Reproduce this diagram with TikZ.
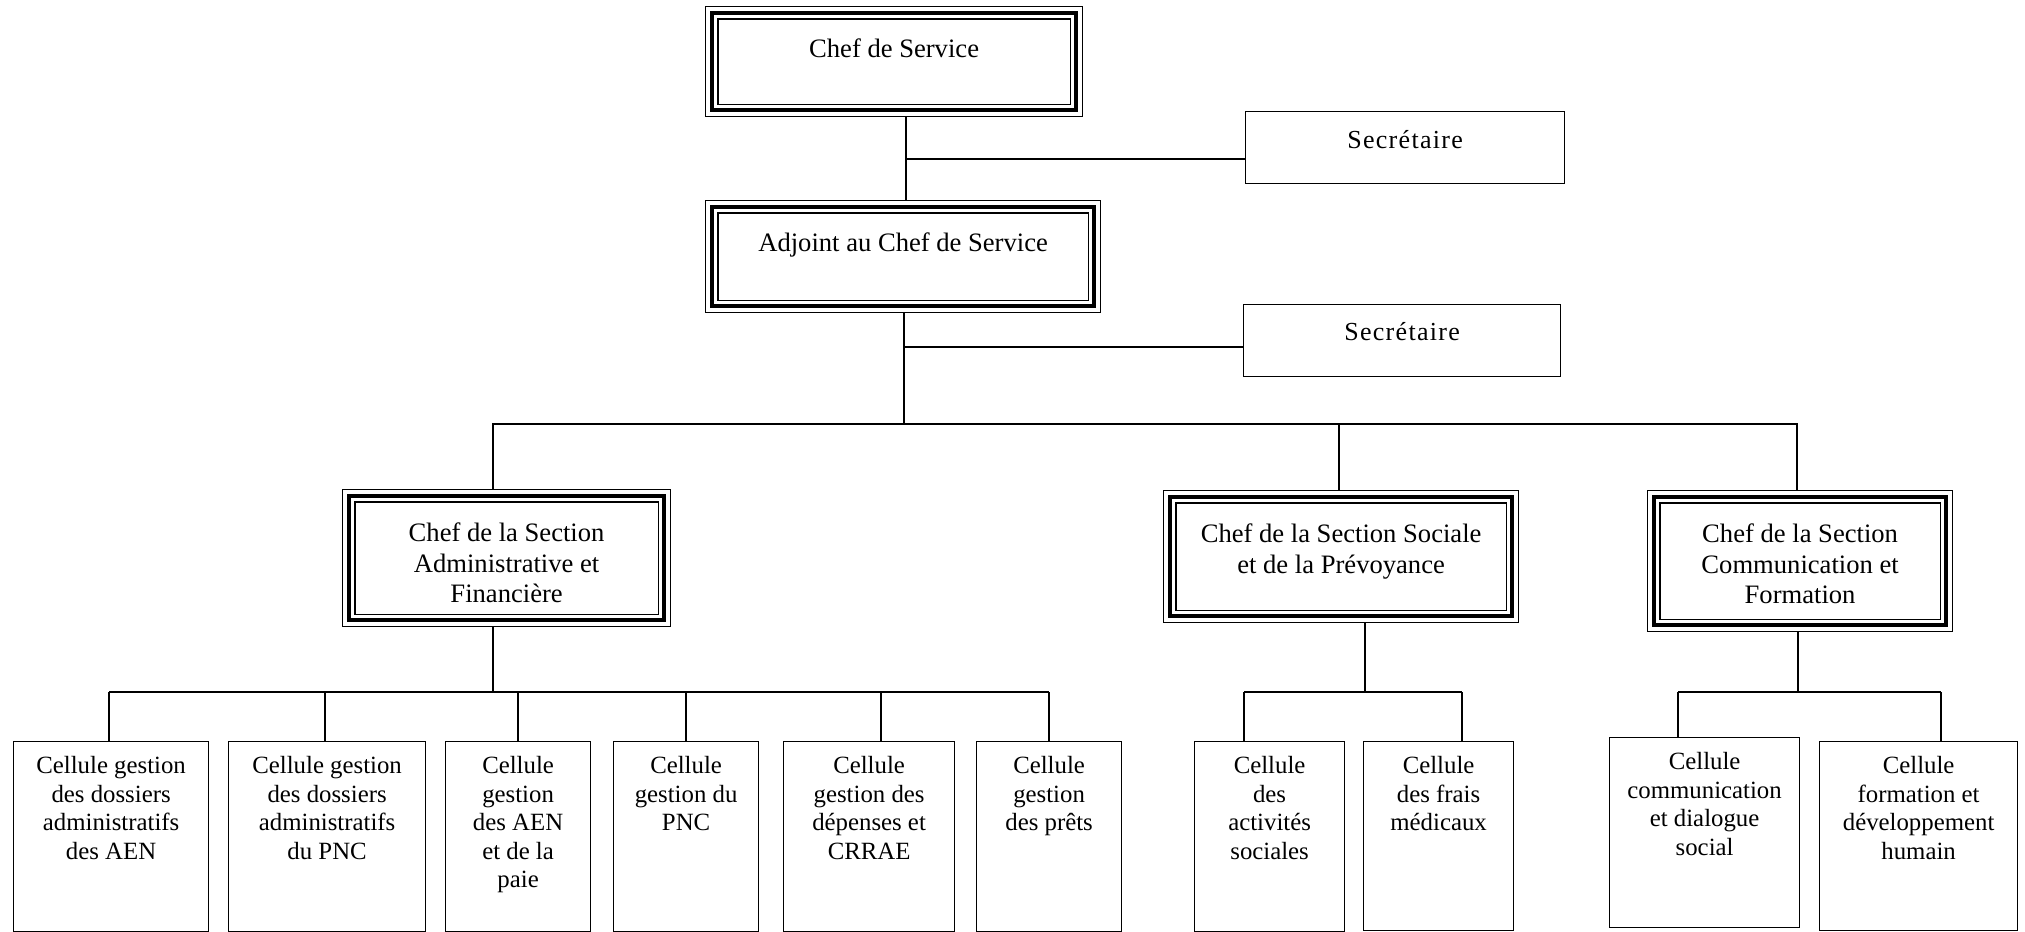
\documentclass[tikz,border=0pt]{standalone}
\usepackage{fontspec}
\setmainfont{Liberation Serif}
\usetikzlibrary{calc}

% text of a box: width, height, first baseline, lines
\newcommand{\boxtext}[4]{\parbox[t][#2][t]{#1}{\centering\rule{0pt}{#3}#4}}

\tikzset{
  bigbox/.style={draw, line width=0.6pt, inner sep=0pt, anchor=north west,
    font=\fontsize{13.3}{15.25}\selectfont},
  secbox/.style={draw, line width=0.6pt, inner sep=0pt, anchor=north west,
    font=\fontsize{13}{15}\selectfont},
  cellbox/.style={draw, line width=0.6pt, inner sep=0pt, anchor=north west,
    font=\fontsize{12.4}{14.25}\selectfont},
  link/.style={line width=0.6pt}
}

\begin{document}
\begin{tikzpicture}[x=0.5pt, y=-0.5pt]
  \useasboundingbox (0,0) rectangle (2025,932);

  % top of the chart
  \node[bigbox] at (705,6) (chef) {\boxtext{188.5pt}{55pt}{25.5pt}{Chef de Service}};
  \node[secbox] at (1245,111) (sec1) {\boxtext{159.5pt}{36pt}{18.5pt}{\addfontfeature{LetterSpace=5}Secrétaire}};
  \node[bigbox] at (705,200) (adj) {\boxtext{197.5pt}{56pt}{25.5pt}{Adjoint au Chef de Service}};
  \node[secbox] at (1243,304) (sec2) {\boxtext{158.5pt}{36pt}{18pt}{\addfontfeature{LetterSpace=5}Secrétaire}};

  % sections
  \node[bigbox] at (342,489) (saf) {\boxtext{164pt}{68.5pt}{26pt}{Chef de la Section\\Administrative et\\Financière}};
  \node[bigbox] at (1163,490) (ssp) {\boxtext{177.5pt}{66pt}{26pt}{Chef de la Section Sociale\\et de la Prévoyance}};
  \node[bigbox] at (1647,490) (scf) {\boxtext{152.5pt}{70.5pt}{26pt}{Chef de la Section\\Communication et\\Formation}};

  % cells
  \node[cellbox] at (13,741) (c1) {\boxtext{97.5pt}{95pt}{16pt}{Cellule gestion\\des dossiers\\administratifs\\des AEN}};
  \node[cellbox] at (228,741) (c2) {\boxtext{98.5pt}{95pt}{16pt}{Cellule gestion\\des dossiers\\administratifs\\du PNC}};
  \node[cellbox] at (445,741) (c3) {\boxtext{72.5pt}{95pt}{16pt}{Cellule\\gestion\\des AEN\\et de la\\paie}};
  \node[cellbox] at (613,741) (c4) {\boxtext{72.5pt}{95pt}{16pt}{Cellule\\gestion du\\PNC}};
  \node[cellbox] at (783,741) (c5) {\boxtext{85.5pt}{95pt}{16pt}{Cellule\\gestion des\\dépenses et\\CRRAE}};
  \node[cellbox] at (976,741) (c6) {\boxtext{72.5pt}{95pt}{16pt}{Cellule\\gestion\\des prêts}};
  \node[cellbox] at (1194,741) (c7) {\boxtext{75pt}{95pt}{16pt}{Cellule\\des\\activités\\sociales}};
  \node[cellbox] at (1363,741) (c8) {\boxtext{75pt}{94.5pt}{16pt}{Cellule\\des frais\\médicaux}};
  \node[cellbox] at (1609,737) (c9) {\boxtext{95pt}{95pt}{16pt}{Cellule\\communication\\et dialogue\\social}};
  \node[cellbox] at (1819,741) (c10) {\boxtext{99pt}{94.5pt}{16pt}{Cellule\\formation et\\développement\\humain}};

  % triple frames
  \foreach \n in {chef,adj,saf,ssp,scf}{
    \draw[line width=2pt] ([shift={(3.5pt,-3.5pt)}]\n.north west) rectangle ([shift={(-3.5pt,3.5pt)}]\n.south east);
    \draw[line width=0.6pt] ([shift={(6.5pt,-6.5pt)}]\n.north west) rectangle ([shift={(-6.5pt,6.5pt)}]\n.south east);
  }

  % junctions
  \coordinate (j1) at (906,159);
  \coordinate (j2) at (904,347);
  \coordinate (bus) at (904,424);
  \coordinate (bA) at (493,424);
  \coordinate (bS) at (1339,424);
  \coordinate (bC) at (1797,424);
  \coordinate (sA) at (493,692);
  \coordinate (sS) at (1365,692);
  \coordinate (sC) at (1798,692);
  \coordinate (d1) at (109,692);
  \coordinate (d2) at (325,692);
  \coordinate (d3) at (518,692);
  \coordinate (d4) at (686,692);
  \coordinate (d5) at (881,692);
  \coordinate (d6) at (1049,692);
  \coordinate (d7) at (1244,692);
  \coordinate (d8) at (1462,692);
  \coordinate (d9) at (1678,692);
  \coordinate (d10) at (1941,692);

  \draw[link] (chef.south -| j1) -- (adj.north -| j1);
  \draw[link] (j1) -- (j1 -| sec1.west);
  \draw[link] (adj.south -| bus) -- (bus);
  \draw[link] (j2) -- (j2 -| sec2.west);
  \draw[link] (bA |- saf.north) -- (bA) -- (bC) -- (bC |- scf.north);
  \draw[link] (bS) -- (bS |- ssp.north);

  \draw[link] (saf.south -| sA) -- (sA);
  \draw[link] (d1) -- (d6);
  \draw[link] (ssp.south -| sS) -- (sS);
  \draw[link] (d7) -- (d8);
  \draw[link] (scf.south -| sC) -- (sC);
  \draw[link] (d9) -- (d10);
  \foreach \i in {1,...,10}
    \draw[link] (d\i) -- (c\i.north -| d\i);
\end{tikzpicture}
\end{document}
